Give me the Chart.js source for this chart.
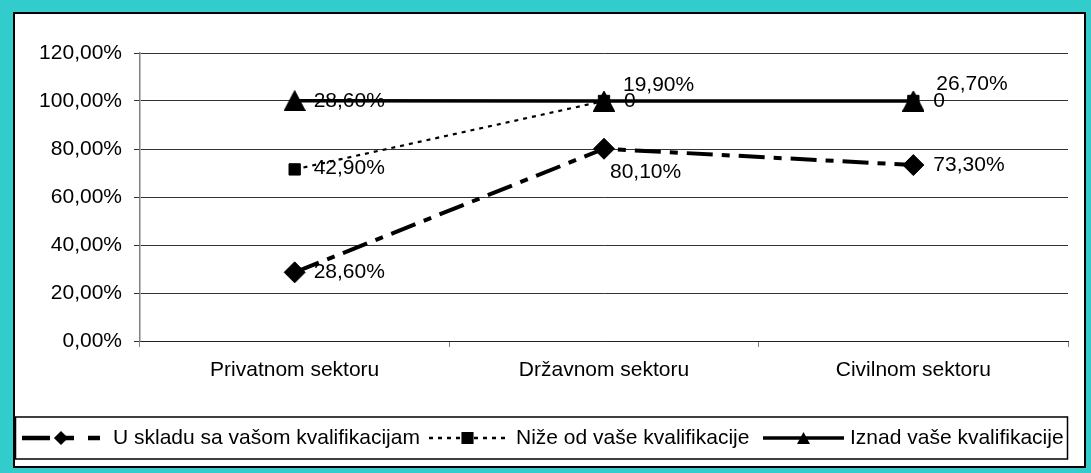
<!DOCTYPE html>
<html>
<head>
<meta charset="utf-8">
<script src="https://cdn.jsdelivr.net/npm/chart.js@4.4.1/dist/chart.umd.min.js"></script>
<style>
  html, body { margin: 0; padding: 0; }
  body { width: 1091px; height: 473px; background: #33cccc; position: relative; overflow: hidden; }
  #okvir { position: absolute; left: 13px; top: 12px; width: 1069px; height: 452px; border: 2px solid #000; background: #fff; }
  canvas { display: block; }
</style>
</head>
<body>
<div id="okvir"><canvas id="grafik" width="1069" height="452"></canvas></div>
<script>
const kategorije = ["Privatnom sektoru", "Državnom sektoru", "Civilnom sektoru"];
const uSkladu    = [28.6, 80.1, 73.3];
const nize       = [42.9, 19.9, 26.7];
const iznad      = [28.6, 0, 0];
const nazivi     = ["U skladu sa vašom kvalifikacijam", "Niže od vaše kvalifikacije", "Iznad vaše kvalifikacije"];

const FONT = '"Liberation Sans", Arial, sans-serif';

function formatiraj(v) {
  if (v === 0) return "0";
  return v.toFixed(2).replace(".", ",") + "%";
}

// trokut centriran po visini kao u Excelu
function trokut(w, h) {
  const c = document.createElement("canvas");
  c.width = w; c.height = h;
  const g = c.getContext("2d");
  g.fillStyle = "#000";
  g.beginPath();
  g.moveTo(w / 2, 0);
  g.lineTo(w, h);
  g.lineTo(0, h);
  g.closePath();
  g.fill();
  return c;
}
const trokutVeliki = trokut(22, 21);
const trokutMali   = trokut(13, 12);

// pomak oznake od tacke [dx, dy], po seriji i kategoriji
const pomaci = [
  [[19, 0], [6, 23], [20, 0]],
  [[19, -1], [19, -16], [23, -17]],
  [[19, 0], [20, 0], [20, 0]]
];

const oznake = {
  id: "oznake",
  beforeDatasetsDraw(chart) {
    const ctx = chart.ctx;
    ctx.save();
    ctx.font = "21px " + FONT;
    ctx.fillStyle = "#000";
    ctx.textBaseline = "middle";
    ctx.textAlign = "left";
    chart.data.datasets.forEach((ds, i) => {
      chart.getDatasetMeta(i).data.forEach((pt, j) => {
        const [dx, dy] = pomaci[i][j];
        ctx.fillText(formatiraj(ds.data[j]), pt.x + dx, pt.y + dy);
      });
    });
    ctx.restore();
  },
  // trokuti zadnje serije idu preko kvadrata kao u Excelu
  afterDatasetsDraw(chart) {
    const meta = chart.getDatasetMeta(2);
    meta.data.forEach(pt => pt.draw(chart.ctx, chart.chartArea));
  }
};

// legenda u stilu Excela: linija s markerom u sredini
const legenda = {
  id: "legenda",
  afterDraw(chart) {
    const ctx = chart.ctx;
    const stavke = [
      { x0: 7,   x1: 85,  tekst: 98 },
      { x0: 414, x1: 491, tekst: 501 },
      { x0: 748, x1: 829, tekst: 835 }
    ];
    const yc = 424;
    ctx.save();
    ctx.strokeStyle = "#000";
    ctx.lineWidth = 1.5;
    ctx.strokeRect(0.5, 403, 1052, 42);
    chart.data.datasets.forEach((ds, i) => {
      const s = stavke[i];
      ctx.save();
      ctx.strokeStyle = "#000";
      ctx.lineWidth = ds.legendaSirina;
      ctx.setLineDash(ds.legendaDash || []);
      ctx.beginPath();
      ctx.moveTo(s.x0, yc);
      ctx.lineTo(s.x1, yc);
      ctx.stroke();
      ctx.restore();
      ctx.fillStyle = "#000";
      ctx.strokeStyle = "#000";
      Chart.helpers.drawPoint(ctx, {
        pointStyle: ds.legendaMarker || ds.pointStyle, radius: ds.legendaRadius, borderWidth: 1
      }, (s.x0 + s.x1) / 2, yc);
      ctx.fillStyle = "#000";
      ctx.font = "21px " + FONT;
      ctx.textBaseline = "middle";
      ctx.fillText(nazivi[i], s.tekst, yc);
    });
    ctx.restore();
  }
};

new Chart(document.getElementById("grafik"), {
  type: "line",
  data: {
    labels: kategorije,
    datasets: [
      {
        label: nazivi[0], data: uSkladu,
        borderColor: "#000", backgroundColor: "#000", borderWidth: 4,
        borderDash: [26, 9, 8, 9], legendaDash: [28, 14, 10, 14], legendaSirina: 4.5,
        pointStyle: "rectRot", pointRadius: 10.5, legendaRadius: 6,
        pointBorderWidth: 1, tension: 0
      },
      {
        label: nazivi[1], data: nize,
        borderColor: "#000", backgroundColor: "#000", borderWidth: 2.2,
        borderDash: [4, 5], legendaDash: [4, 5], legendaSirina: 2.5,
        pointStyle: "rect", pointRadius: 8, legendaRadius: 7.5,
        pointBorderWidth: 1, tension: 0
      },
      {
        label: nazivi[2], data: iznad,
        borderColor: "#000", backgroundColor: "#000", borderWidth: 3.5, legendaSirina: 3.5,
        pointStyle: trokutVeliki, legendaMarker: trokutMali, pointRadius: 11, legendaRadius: 7,
        pointBorderWidth: 1, tension: 0
      }
    ]
  },
  options: {
    responsive: false,
    devicePixelRatio: 1,
    animation: false,
    layout: { padding: { top: 39, right: 16, bottom: 0, left: 0 } },
    plugins: { legend: { display: false }, tooltip: { enabled: false } },
    elements: { point: { hoverRadius: 0 } },
    scales: {
      x: {
        offset: true,
        grid: { display: true, drawOnChartArea: false, drawTicks: true, tickLength: 6, offset: true, color: "#808080" },
        border: { color: "#222", width: 1 },
        ticks: { color: "#000", font: { family: FONT, size: 21 }, padding: 11, maxRotation: 0 },
        afterFit(s) { s.height = 125; }
      },
      y: {
        stacked: true,
        min: 0, max: 120,
        ticks: { stepSize: 20, color: "#000", font: { family: FONT, size: 21 }, padding: 12, callback: v => v.toFixed(2).replace(".", ",") + "%" },
        grid: { color: "#333", lineWidth: 1, tickLength: 6, drawTicks: true },
        border: { color: "#808080", width: 1.5 },
        afterFit(s) { s.width = 125; }
      }
    }
  },
  plugins: [oznake, legenda]
});
</script>
</body>
</html>
